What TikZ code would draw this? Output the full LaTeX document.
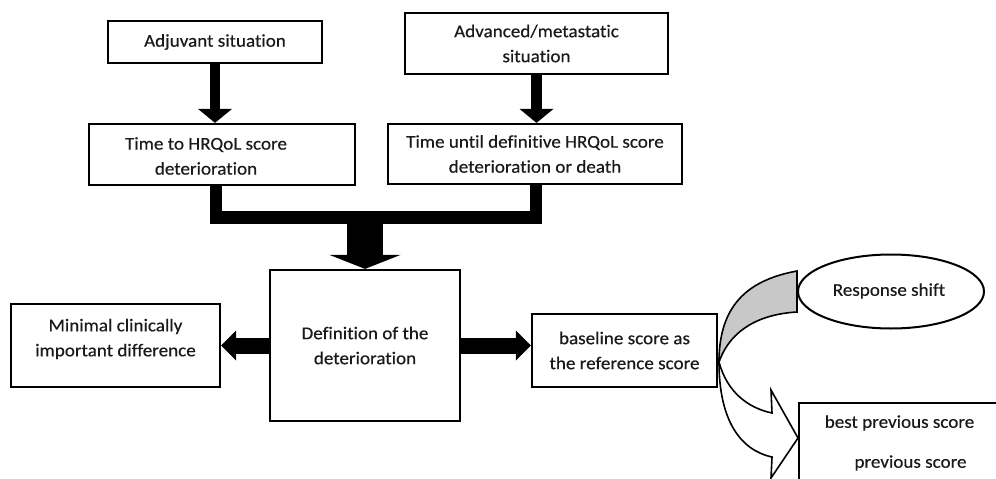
\documentclass[tikz,border=0pt]{standalone}
\usepackage{fontspec}
\setmainfont{Carlito}[FakeStretch=1.06,FakeBold=0.4,Ligatures=NoCommon]
\usetikzlibrary{arrows.meta,shapes.geometric,calc}
\definecolor{bandgray}{HTML}{C8C8C8}
\definecolor{inkgray}{HTML}{1A1A1A}
\tikzset{
  box/.style={draw=black, line width=2.2pt, fill=white, rectangle, inner sep=0pt, align=center,
              text=inkgray, font=\fontsize{18}{25}\selectfont},
  txt/.style={inner sep=0pt, align=center, text=inkgray, font=\fontsize{18}{25}\selectfont},
  thinarrow/.style={line width=10.5pt, -{Triangle[width=34pt,length=14pt,line width=0pt]}},
  midarrow/.style={line width=16pt, -{Triangle[width=30pt,length=15pt,line width=0pt]}},
  bigarrow/.style={line width=36pt, -{Triangle[width=71pt,length=14pt,line width=0pt]}},
  outl/.style={draw=black, line width=1.6pt, line join=miter},
}
\begin{document}
\begin{tikzpicture}[x=1pt,y=-1pt]
\useasboundingbox (0,0) rectangle (996,479);
\clip (0,0) rectangle (996,479);
\fill[white] (0,0) rectangle (996,479);

% boxes
\node[box, minimum width=214pt, minimum height=42pt] (adj) at (215,42) {Adjuvant situation};
\node[box, minimum width=263pt, minimum height=61pt] (adv) at (536.5,43.5) {Advanced/metastatic\\situation};
\node[box, minimum width=266pt, minimum height=61pt] (tto) at (222,154.5) {};
\node[txt] (ttot) at (206,156) {Time to HRQoL score\\deterioration};
\node[box, minimum width=294pt, minimum height=60pt] (tun) at (535,154) {Time until definitive HRQoL score\\deterioration or death};
\node[box, minimum width=190pt, minimum height=151pt] (def) at (365,345.5) {Definition of the\\deterioration};
\node[box, minimum width=209pt, minimum height=83pt] (mcid) at (115.5,345.5) {};
\node[txt] (mcidt) at (115.5,339) {Minimal clinically\\important difference};
\node[box, minimum width=185pt, minimum height=73pt] (base) at (624.5,350.5) {baseline score as\\the reference score};
\node[draw=black, line width=2pt, ellipse, minimum width=186pt, minimum height=74pt, inner sep=0pt] (rs) at (891,291.5) {};
\node[txt] (rst) at (889,291) {Response shift};
\node[box, minimum width=202pt, minimum height=88pt, anchor=north west] (best) at (798,402) {};
\node[txt] (bestt1) at (899.5,423) {best previous score};
\node[txt] (bestt2) at (910.5,463) {previous score};

% top arrows
\draw[thinarrow] (adj.south) -- (tto.north -| adj.south);
\draw[thinarrow] (adv.south) -- (tun.north -| adv.south);

% T connector
\coordinate (tl) at (216,217.5);
\coordinate (tr) at (536,217.5);
\draw[line width=12.5pt, line join=miter] (tto.south -| tl) -- (tl) -- (tr) -- (tun.south -| tr);
\draw[bigarrow] (def.north |- tl) -- (def.north);

% side arrows
\draw[midarrow] (def.west) -- (mcid.east);
\draw[midarrow] (def.east) -- (def.east -| base.west);

% curved gray band to response shift
\coordinate (p0) at (719,362);
\coordinate (gt) at ($(rs.west)+(0,-20.5)$);
\coordinate (gb) at ($(rs.west)+(0,20.5)$);
\filldraw[outl, fill=bandgray] (p0) .. controls (719,305) and (748,280) .. (gt)
   -- (gb) .. controls (762,314) and (731,328) .. (p0) -- cycle;

% curved white arrow to best previous score
\coordinate (tip) at (best.west |- 0,438);
\filldraw[outl, fill=white] (p0) .. controls (727,392) and (748,408) .. (772,413)
   -- (771,390) -- (tip) -- (771,478) -- (772,457)
   .. controls (740,450) and (719,420) .. (p0) -- cycle;
\end{tikzpicture}
\end{document}
